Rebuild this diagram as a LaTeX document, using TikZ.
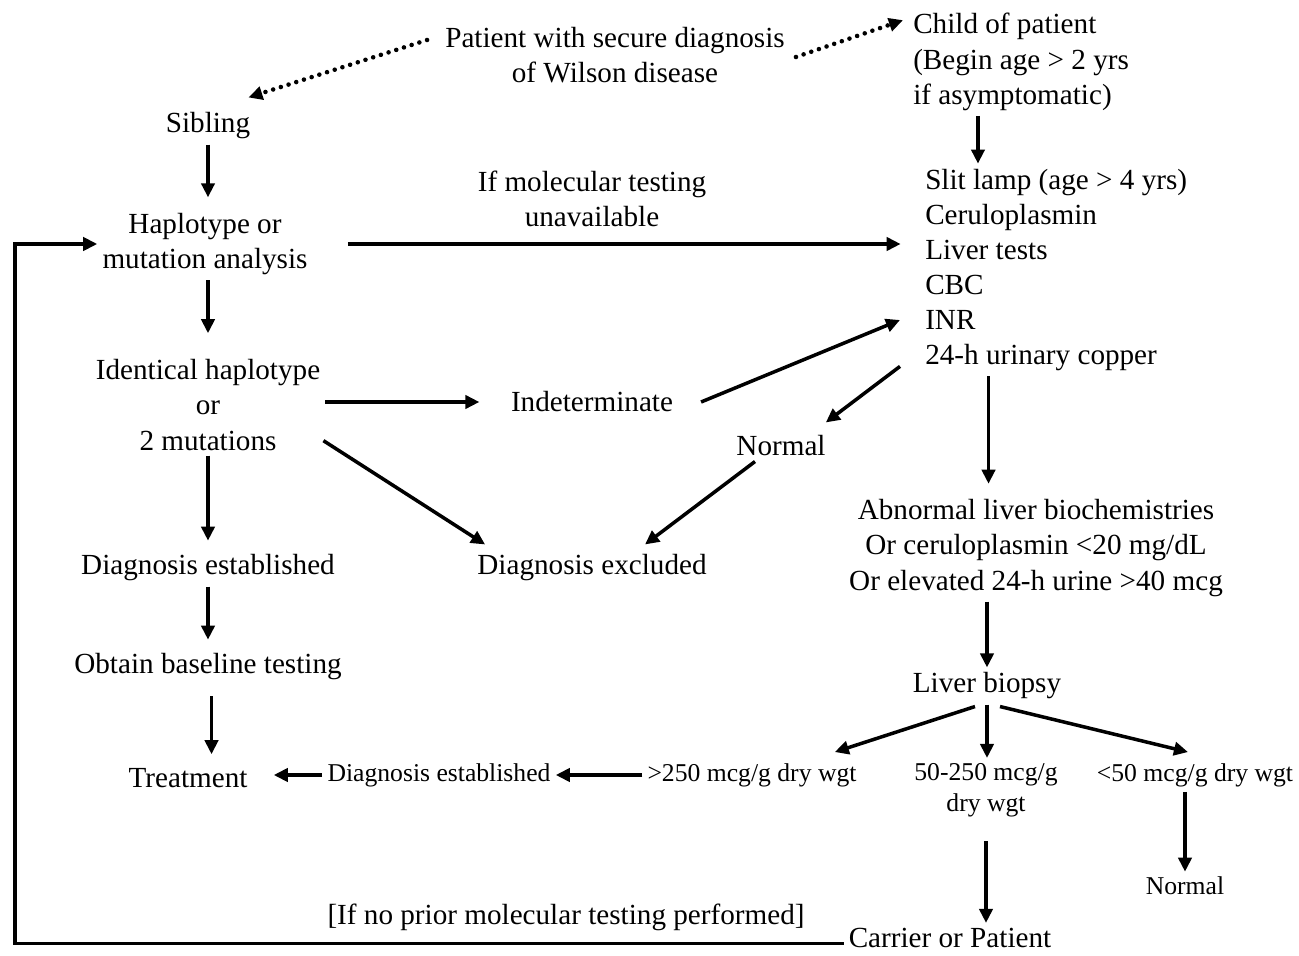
\documentclass[tikz,border=0pt]{standalone}
\usepackage{fontspec}
\setmainfont{Liberation Serif}
\usetikzlibrary{arrows.meta}

\tikzset{
	txt/.style={inner sep=2.8pt, align=center, font=\fontsize{16.6pt}{20pt}\selectfont},
	smalltxt/.style={inner sep=2.8pt, align=center, font=\fontsize{14.6pt}{17.6pt}\selectfont},
	arr/.style={line width=2pt, -{Triangle[length=8pt,width=7.5pt]}},
	dotarr/.style={line width=2.6pt, line cap=round, dash pattern=on 0pt off 4.6pt, -{Triangle[length=8pt,width=7.5pt]}},
}

\begin{document}
\begin{tikzpicture}[x=0.02cm, y=-0.02cm]
		\useasboundingbox (0,0) rectangle (1299,956);

		% Top
		\node[txt] (patient) at (615,55) {Patient with secure diagnosis\\of Wilson disease};
		\node[txt, anchor=west, align=left] (child) at (908,62) {Child of patient\\(Begin age > 2 yrs\\if asymptomatic)};
		\node[txt] (sibling) at (208,126) {Sibling};

		% Left column
		\node[txt] (haplo) at (205,244) {Haplotype or\\mutation analysis};
		\node[txt] (identical) at (208,405) {Identical haplotype\\or\\2 mutations};
		\node[txt] (dxest1) at (208,568) {Diagnosis established};
		\node[txt] (baseline) at (208,667) {Obtain baseline testing};
		\node[txt] (treatment) at (188,778) {Treatment};

		% Middle
		\node[txt] (mollabel) at (592,199) {If molecular testing\\unavailable};
		\node[txt] (indet) at (592,402) {Indeterminate};
		\node[txt] (normal1) at (781,446) {Normal};
		\node[txt] (dxexcl) at (592,568) {Diagnosis excluded};
		\node[smalltxt] (dxest2) at (439,775) {Diagnosis established};
		\node[smalltxt] (gt250) at (752,775) {>250 mcg/g dry wgt};

		% Right column
		\node[txt, anchor=west, align=left] (tests) at (920,270) {Slit lamp (age > 4 yrs)\\Ceruloplasmin\\Liver tests\\CBC\\INR\\24-h urinary copper};
		\node[txt] (abnormal) at (1036,548) {Abnormal liver biochemistries\\Or ceruloplasmin <20 mg/dL\\Or elevated 24-h urine >40 mcg};
		\node[txt] (biopsy) at (987,686) {Liver biopsy};
		\node[smalltxt] (mid) at (986,790) {50-250 mcg/g\\dry wgt};
		\node[smalltxt] (lt50) at (1195,775) {<50 mcg/g dry wgt};
		\node[smalltxt] (normal2) at (1185,886) {Normal};

		% Bottom
		\node[txt] (note) at (566,917) {[If no prior molecular testing performed]};
		\node[txt] (carrier) at (950,938) {Carrier or Patient};
		\coordinate (loopcorner) at (15,948);

		% Arrows
		\draw[dotarr] ([shift={(-13,-15)}]patient.west) -- ([shift={(-7,-10)}]sibling.north east);
		\draw[dotarr] ([shift={(6,2)}]patient.east) -- ([shift={(-5,12)}]child.north west);
		\draw[arr] ([xshift=33pt]tests.north west |- child.south) -- ([xshift=33pt]tests.north west);
		\draw[arr, shorten >=6pt] (sibling.south) -- (sibling.south |- haplo.north);
		\draw[arr, shorten <=20pt, shorten >=11pt] (haplo.east) -- (tests.west |- haplo.east);
		\draw[arr, shorten >=12pt] (identical.north |- haplo.south) -- (identical.north);
		\draw[arr, shorten >=15pt] (identical.east |- indet.west) -- (indet.west);
		\draw[arr] ([xshift=13pt]indet.east) -- ([shift={(-20,50)}]tests.west);
		\draw[arr] ([shift={(-20,-10)}]tests.south west) -- ([shift={(-5,-8)}]normal1.north east);
		\draw[arr] ([shift={(-2,-15)}]identical.south east) -- ([shift={(13,-5)}]dxexcl.north west);
		\draw[arr] ([shift={(-26,0)}]normal1.south) -- ([shift={(53,-5)}]dxexcl.north);
		\draw[arr, shorten >=6pt] ([xshift=39pt]tests.south west) -- ([xshift=39pt]tests.south west |- abnormal.north);
		\draw[arr] (biopsy.north |- abnormal.south) -- (biopsy.north);
		\draw[arr] (biopsy.south) -- (biopsy.south |- mid.north);
		\draw[arr] ([shift={(-12,2)}]biopsy.south) -- ([shift={(-27,-6)}]gt250.north east);
		\draw[arr] ([shift={(13,2)}]biopsy.south) -- ([shift={(-7,-6)}]lt50.north);
		\draw[arr, shorten <=11pt] (mid.south) -- (mid.south |- carrier.north);
		\draw[arr] (normal2.north |- lt50.south) -- (normal2.north);
		\draw[arr, shorten >=5pt] (identical.south) -- (identical.south |- dxest1.north);
		\draw[arr, shorten >=5pt] (dxest1.south) -- (dxest1.south |- baseline.north);
		\draw[arr, shorten <=6pt, shorten >=5pt] ([xshift=2pt]baseline.south) -- ([xshift=2pt]baseline.south |- treatment.north);
		\draw[arr, shorten >=12pt] (dxest2.west) -- (treatment.east |- dxest2.west);
		\draw[arr] (gt250.west) -- (dxest2.east);
		\draw[arr] ([yshift=-3pt]carrier.west) -- ([yshift=-3pt]carrier.west -| loopcorner) |- (haplo.west);

\end{tikzpicture}
\end{document}
